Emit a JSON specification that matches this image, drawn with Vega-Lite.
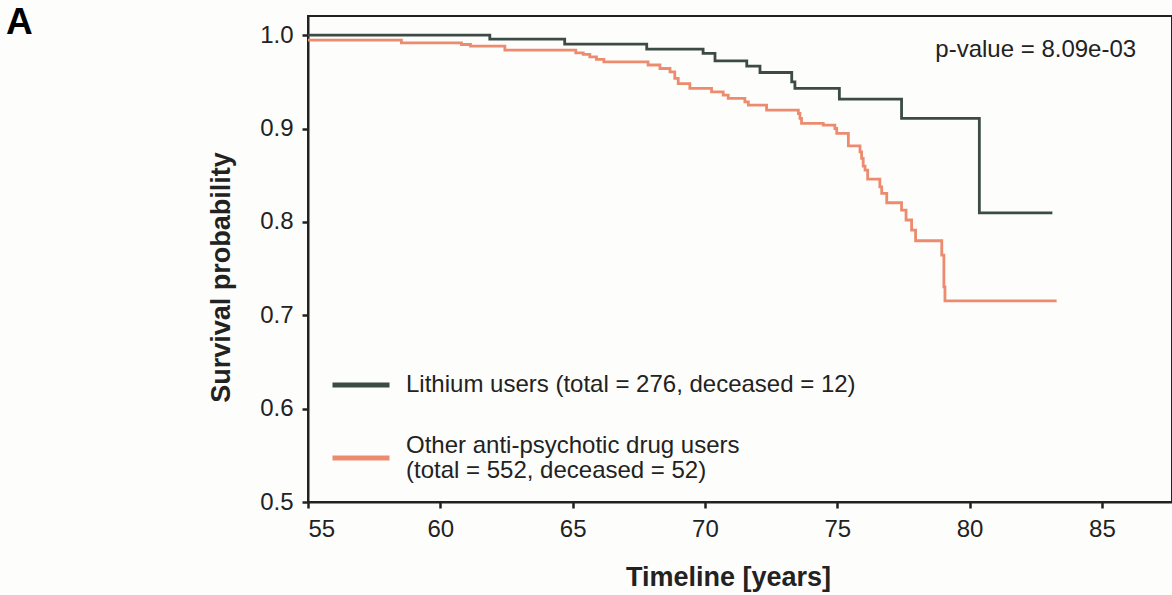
{
  "$schema": "https://vega.github.io/schema/vega-lite/v6.json",
  "width": 864,
  "height": 486,
  "autosize": {"type": "none"},
  "padding": {"left": 308, "top": 16, "right": 0, "bottom": 93},
  "background": "#fdfdfc",
  "title": {"text": "A", "anchor": "start", "frame": "group", "fontSize": 37, "fontWeight": "bold", "font": "Liberation Sans", "color": "#000", "dx": -302, "dy": 55, "offset": 0, "baseline": "alphabetic"},
  "config": {
    "font": "Liberation Sans",
    "view": {"stroke": "#222", "strokeWidth": 2},
    "axis": {"domainColor": "#222", "domainWidth": 2, "tickColor": "#222", "tickWidth": 2.5, "tickSize": 6, "labelFontSize": 24, "labelColor": "#222", "titleFontSize": 27, "titleFontWeight": "bold", "titleColor": "#222", "grid": false}
  },
  "layer": [
    {
      "data": {"values": [
        {"age": 55, "surv": 1.0, "group": "Lithium"},
        {"age": 61.87, "surv": 0.9957, "group": "Lithium"},
        {"age": 64.70, "surv": 0.9904, "group": "Lithium"},
        {"age": 67.80, "surv": 0.9850, "group": "Lithium"},
        {"age": 69.93, "surv": 0.9804, "group": "Lithium"},
        {"age": 70.38, "surv": 0.9725, "group": "Lithium"},
        {"age": 71.58, "surv": 0.9668, "group": "Lithium"},
        {"age": 72.08, "surv": 0.9600, "group": "Lithium"},
        {"age": 73.28, "surv": 0.9500, "group": "Lithium"},
        {"age": 73.40, "surv": 0.9430, "group": "Lithium"},
        {"age": 75.08, "surv": 0.9315, "group": "Lithium"},
        {"age": 77.43, "surv": 0.9108, "group": "Lithium"},
        {"age": 80.37, "surv": 0.8097, "group": "Lithium"},
        {"age": 83.13, "surv": 0.8097, "group": "Lithium"},
        {"age": 55, "surv": 0.9946, "group": "Other"},
        {"age": 58.53, "surv": 0.9918, "group": "Other"},
        {"age": 60.80, "surv": 0.9900, "group": "Other"},
        {"age": 61.14, "surv": 0.9882, "group": "Other"},
        {"age": 62.44, "surv": 0.9840, "group": "Other"},
        {"age": 65.12, "surv": 0.9810, "group": "Other"},
        {"age": 65.40, "surv": 0.9793, "group": "Other"},
        {"age": 65.65, "surv": 0.9768, "group": "Other"},
        {"age": 65.90, "surv": 0.9740, "group": "Other"},
        {"age": 66.18, "surv": 0.9714, "group": "Other"},
        {"age": 67.85, "surv": 0.9680, "group": "Other"},
        {"age": 68.30, "surv": 0.9643, "group": "Other"},
        {"age": 68.68, "surv": 0.9607, "group": "Other"},
        {"age": 68.86, "surv": 0.9536, "group": "Other"},
        {"age": 68.99, "surv": 0.9480, "group": "Other"},
        {"age": 69.43, "surv": 0.9430, "group": "Other"},
        {"age": 70.25, "surv": 0.9393, "group": "Other"},
        {"age": 70.69, "surv": 0.9358, "group": "Other"},
        {"age": 70.88, "surv": 0.9322, "group": "Other"},
        {"age": 71.51, "surv": 0.9286, "group": "Other"},
        {"age": 71.64, "surv": 0.9250, "group": "Other"},
        {"age": 72.33, "surv": 0.9197, "group": "Other"},
        {"age": 73.53, "surv": 0.9161, "group": "Other"},
        {"age": 73.59, "surv": 0.9108, "group": "Other"},
        {"age": 73.65, "surv": 0.9055, "group": "Other"},
        {"age": 74.47, "surv": 0.9036, "group": "Other"},
        {"age": 74.91, "surv": 0.9000, "group": "Other"},
        {"age": 74.98, "surv": 0.8947, "group": "Other"},
        {"age": 75.42, "surv": 0.8815, "group": "Other"},
        {"age": 75.86, "surv": 0.8750, "group": "Other"},
        {"age": 75.92, "surv": 0.8680, "group": "Other"},
        {"age": 75.98, "surv": 0.8597, "group": "Other"},
        {"age": 76.05, "surv": 0.8555, "group": "Other"},
        {"age": 76.15, "surv": 0.8458, "group": "Other"},
        {"age": 76.61, "surv": 0.8376, "group": "Other"},
        {"age": 76.68, "surv": 0.8305, "group": "Other"},
        {"age": 76.87, "surv": 0.8205, "group": "Other"},
        {"age": 77.43, "surv": 0.8126, "group": "Other"},
        {"age": 77.60, "surv": 0.8020, "group": "Other"},
        {"age": 77.81, "surv": 0.7912, "group": "Other"},
        {"age": 77.96, "surv": 0.7798, "group": "Other"},
        {"age": 78.95, "surv": 0.7645, "group": "Other"},
        {"age": 79.03, "surv": 0.7305, "group": "Other"},
        {"age": 79.07, "surv": 0.7155, "group": "Other"},
        {"age": 83.29, "surv": 0.7155, "group": "Other"}
      ]},
      "mark": {"type": "line", "interpolate": "step-after", "strokeWidth": 2.8},
      "encoding": {
        "x": {"field": "age", "type": "quantitative", "scale": {"domain": [55, 87.65], "nice": false, "zero": false}, "axis": {"values": [55, 60, 65, 70, 75, 80, 85], "title": "Timeline [years]", "labelPadding": 9, "titlePadding": 23, "titleX": 420}},
        "y": {"field": "surv", "type": "quantitative", "scale": {"domain": [0.5, 1.0205], "nice": false, "zero": false}, "axis": {"values": [0.5, 0.6, 0.7, 0.8, 0.9, 1.0], "format": ".1f", "title": "Survival probability", "labelPadding": 9, "titlePadding": 24, "titleY": 261}},
        "color": {"field": "group", "type": "nominal", "scale": {"domain": ["Lithium", "Other"], "range": ["#3c4b45", "#ec8b6d"]},
          "legend": {"orient": "none", "legendX": 22, "legendY": 338, "title": null, "symbolType": "stroke", "symbolSize": 3249, "symbolStrokeWidth": 5, "labelFontSize": 24, "labelColor": "#222", "labelOffset": 14, "labelLimit": 700, "rowPadding": 30, "padding": 0,
            "labelExpr": "datum.value == 'Lithium' ? 'Lithium users (total = 276, deceased = 12)' : ['Other anti-psychotic drug users', '(total = 552, deceased = 52)']",
            "encode": {"labels": {"update": {"lineHeight": {"value": 25}, "dy": {"signal": "datum.value == 'Other' ? -12.5 : 0"}}}}}},
        "order": {"field": "age", "type": "quantitative"}
      }
    },
    {
      "data": {"values": [{"label": "p-value = 8.09e-03", "age": 82.5, "surv": 0.984}]},
      "mark": {"type": "text", "fontSize": 24, "color": "#222", "align": "center", "baseline": "middle"},
      "encoding": {
        "x": {"field": "age", "type": "quantitative"},
        "y": {"field": "surv", "type": "quantitative"},
        "text": {"field": "label"}
      }
    }
  ]
}
